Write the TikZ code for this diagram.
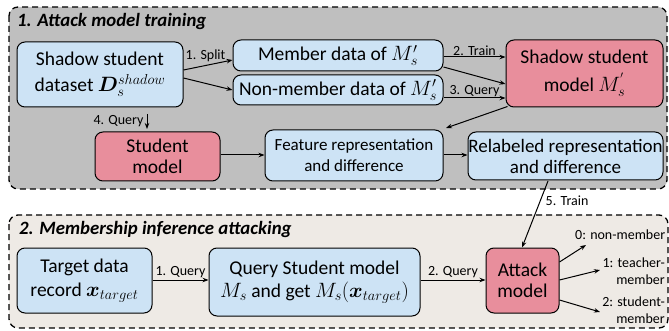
\documentclass[tikz,border=0pt]{standalone}
\usepackage{fontspec}
\usepackage{amsmath,bm}
\setmainfont{Carlito}
\usetikzlibrary{arrows.meta}
\definecolor{boxblue}{RGB}{205,227,245}
\definecolor{boxpink}{RGB}{232,142,156}
\definecolor{panelgray}{RGB}{191,191,191}
\definecolor{panelbeige}{RGB}{238,234,229}
\tikzset{
  panel/.style={draw=black, line width=1.3pt, dash pattern=on 6pt off 4pt, rounded corners=9pt},
  bluebox/.style={draw=black, line width=1pt, rounded corners=8pt, fill=boxblue, align=center, font=\fontsize{19.5}{23}\selectfont, inner sep=0pt},
  pinkbox/.style={bluebox, fill=boxpink},
  conn/.style={-{Stealth[length=6pt,width=4.5pt]}, line width=1pt},
  lbl/.style={font=\fontsize{14}{16}\selectfont, inner sep=1pt},
  ptitle/.style={font=\fontsize{18.8}{22}\selectfont\bfseries\itshape, anchor=west, inner sep=0pt},
  outlbl/.style={font=\fontsize{14}{17}\selectfont, inner sep=0pt, align=right}
}
\begin{document}
\begin{tikzpicture}[x=1pt,y=-1pt]
\useasboundingbox (0,0) rectangle (669,331);
% panels
\draw[panel, fill=panelgray] (9,7) rectangle (667,189);
\draw[panel, fill=panelbeige] (9,215) rectangle (668,328);
\node[ptitle] (t1) at (17,21) {1. Attack model training};
\node[ptitle] (t2) at (19,229) {2. Membership inference attacking};
% top nodes
\node[bluebox, minimum width=166pt, minimum height=65pt, font=\fontsize{19.5}{26}\selectfont] (ds) at (100,74.5) {Shadow student\\dataset $\bm{D}_s^{shadow}$};
\node[bluebox, minimum width=210pt, minimum height=31pt] (mem) at (338,55.5) {Member data of $M_s'$};
\node[bluebox, minimum width=210pt, minimum height=30pt] (nonmem) at (338,90) {Non-member data of $M_s'$};
\node[pinkbox, minimum width=157pt, minimum height=67pt, font=\fontsize{19.5}{28}\selectfont] (ssm) at (584.5,73.5) {Shadow student\\model $M_s^{'}$};
\node[pinkbox, minimum width=125pt, minimum height=49pt, font=\fontsize{19.5}{21}\selectfont] (stu) at (157.5,156.5) {Student\\model};
\node[bluebox, minimum width=178pt, minimum height=51pt, font=\fontsize{17}{21}\selectfont] (feat) at (354,155.5) {Feature representation\\and difference};
\node[bluebox, minimum width=195pt, minimum height=48pt, font=\fontsize{19}{21}\selectfont] (rel) at (565.5,156) {Relabeled representation\\and difference};
% bottom nodes
\node[bluebox, minimum width=135pt, minimum height=65pt, font=\fontsize{19.5}{24}\selectfont] (tgt) at (84.5,280.5) {Target data\\record $\bm{x}_{target}$};
\node[bluebox, minimum width=211pt, minimum height=68pt] (qry) at (314.5,282) {Query Student model\\$M_s$ and get $M_s(\bm{x}_{target})$};
\node[pinkbox, minimum width=73pt, minimum height=65pt, font=\fontsize{19.5}{21}\selectfont] (atk) at (522.5,280.5) {Attack\\model};
\node[outlbl, anchor=west] (o0) at (575,235) {0: non-member};
\node[outlbl, anchor=east] (o1) at (665,271.5) {1: teacher-\\member};
\node[outlbl, anchor=east] (o2) at (665,310.5) {2: student-\\member};
% connectors
\draw[conn] (ds.east |- 0,70) -- (mem.west |- 0,60) node[lbl, pos=0.45, above=2pt] {1. Split};
\draw[conn] (ds.east |- 0,78) -- (nonmem.west |- 0,90);
\draw[conn] (mem.east |- 0,57) -- (ssm.west |- 0,57) node[lbl, midway, above=0pt] {2. Train};
\draw[conn] (mem.east |- 0,67) -- (ssm.west |- 0,84);
\draw[conn] (nonmem.east |- 0,98) -- (ssm.west |- 0,98) node[lbl, midway, above=0pt] {3. Query};
\draw[conn] (ssm.south west) ++(2,-1) -- (446,128);
\coordinate (q4) at (147,114);
\draw[conn] (q4) -- (q4 |- 0,129) node[lbl, midway, left=2pt] {4. Query};
\draw[conn] (stu.east |- 0,155) -- (feat.west |- 0,155);
\draw[conn] (feat.east |- 0,155) -- (rel.west |- 0,155);
\draw[conn] (548,181) -- (atk.north -| 522,0) node[lbl, pos=0.3, right=4pt] {5. Train};
\draw[conn] (tgt.east |- 0,280) -- (qry.west |- 0,280) node[lbl, midway, above=1pt] {1. Query};
\draw[conn] (qry.east |- 0,280) -- (atk.west |- 0,280) node[lbl, midway, above=1pt] {2. Query};
\draw[conn] (atk.east |- 0,262) -- (586,245);
\draw[conn] (atk.east |- 0,280) -- (600,270);
\draw[conn] (atk.east |- 0,300) -- (600,312);
\end{tikzpicture}
\end{document}
